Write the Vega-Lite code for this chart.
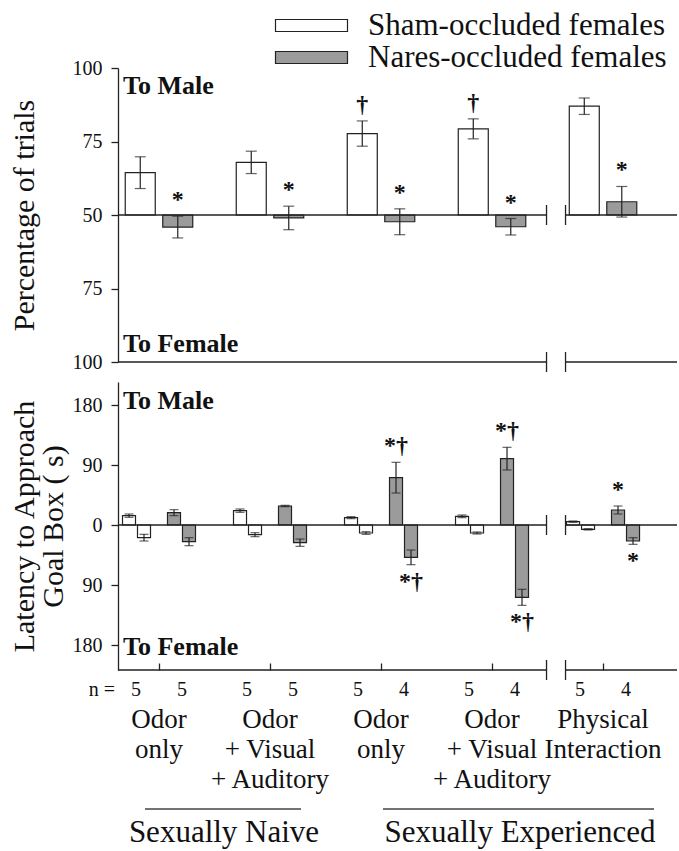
{
  "$schema": "https://vega.github.io/schema/vega-lite/v6.json",
  "background": "white",
  "padding": {"left": 8, "top": 10, "right": 2, "bottom": 4},
  "bounds": "flush",
  "spacing": 20,
  "config": {
    "view": {"stroke": null},
    "font": "Liberation Serif",
    "axis": {"labelFont": "Liberation Serif", "titleFont": "Liberation Serif", "labelColor": "#111", "titleColor": "#111", "domainColor": "#222", "tickColor": "#222", "grid": false, "titleFontWeight": "normal", "labelFontSize": 20, "titleFontSize": 30, "domainWidth": 1.3, "tickWidth": 1.3},
    "text": {"font": "Liberation Serif", "color": "#111"}
  },
  "datasets": {
    "top": [
      {"group": "N1", "treat": "Sham-occluded females", "pct": 64.4, "lo": 59.0, "hi": 69.8, "sig": ""},
      {"group": "N1", "treat": "Nares-occluded females", "pct": 45.9, "lo": 42.2, "hi": 49.6, "sig": "*"},
      {"group": "N2", "treat": "Sham-occluded females", "pct": 67.9, "lo": 64.1, "hi": 71.7, "sig": ""},
      {"group": "N2", "treat": "Nares-occluded females", "pct": 49.0, "lo": 45.0, "hi": 53.0, "sig": "*"},
      {"group": "E1", "treat": "Sham-occluded females", "pct": 77.7, "lo": 73.4, "hi": 82.0, "sig": "†"},
      {"group": "E1", "treat": "Nares-occluded females", "pct": 47.7, "lo": 43.3, "hi": 52.1, "sig": "*"},
      {"group": "E2", "treat": "Sham-occluded females", "pct": 79.3, "lo": 75.9, "hi": 82.7, "sig": "†"},
      {"group": "E2", "treat": "Nares-occluded females", "pct": 46.0, "lo": 43.2, "hi": 48.8, "sig": "*"},
      {"group": "E3", "treat": "Sham-occluded females", "pct": 87.0, "lo": 84.2, "hi": 89.8, "sig": ""},
      {"group": "E3", "treat": "Nares-occluded females", "pct": 54.5, "lo": 49.3, "hi": 59.7, "sig": "*"}
    ],
    "bot": [
      {"group": "N1", "treat": "Sham-occluded females", "slot": "sM", "dir": "M", "val": 14, "lo": 11.5, "hi": 16.5, "sig": ""},
      {"group": "N1", "treat": "Sham-occluded females", "slot": "sF", "dir": "F", "val": -19, "lo": -24, "hi": -14, "sig": ""},
      {"group": "N1", "treat": "Nares-occluded females", "slot": "nM", "dir": "M", "val": 18.5, "lo": 14, "hi": 23, "sig": ""},
      {"group": "N1", "treat": "Nares-occluded females", "slot": "nF", "dir": "F", "val": -25, "lo": -31, "hi": -19, "sig": ""},
      {"group": "N2", "treat": "Sham-occluded females", "slot": "sM", "dir": "M", "val": 21.5, "lo": 19, "hi": 24, "sig": ""},
      {"group": "N2", "treat": "Sham-occluded females", "slot": "sF", "dir": "F", "val": -14.5, "lo": -17.5, "hi": -11.5, "sig": ""},
      {"group": "N2", "treat": "Nares-occluded females", "slot": "nM", "dir": "M", "val": 28.5, "lo": 27.5, "hi": 29.5, "sig": ""},
      {"group": "N2", "treat": "Nares-occluded females", "slot": "nF", "dir": "F", "val": -26.5, "lo": -32, "hi": -21, "sig": ""},
      {"group": "E1", "treat": "Sham-occluded females", "slot": "sM", "dir": "M", "val": 11, "lo": 9.5, "hi": 12.5, "sig": ""},
      {"group": "E1", "treat": "Sham-occluded females", "slot": "sF", "dir": "F", "val": -12, "lo": -14, "hi": -10, "sig": ""},
      {"group": "E1", "treat": "Nares-occluded females", "slot": "nM", "dir": "M", "val": 71, "lo": 48, "hi": 94, "sig": "*†"},
      {"group": "E1", "treat": "Nares-occluded females", "slot": "nF", "dir": "F", "val": -48.5, "lo": -59.5, "hi": -37.5, "sig": "*†"},
      {"group": "E2", "treat": "Sham-occluded females", "slot": "sM", "dir": "M", "val": 13, "lo": 11, "hi": 15, "sig": ""},
      {"group": "E2", "treat": "Sham-occluded females", "slot": "sF", "dir": "F", "val": -12, "lo": -13.5, "hi": -10.5, "sig": ""},
      {"group": "E2", "treat": "Nares-occluded females", "slot": "nM", "dir": "M", "val": 99.5, "lo": 82.5, "hi": 116.5, "sig": "*†"},
      {"group": "E2", "treat": "Nares-occluded females", "slot": "nF", "dir": "F", "val": -108.5, "lo": -120.5, "hi": -96.5, "sig": "*†"},
      {"group": "E3", "treat": "Sham-occluded females", "slot": "sM", "dir": "M", "val": 5, "lo": 4, "hi": 6, "sig": ""},
      {"group": "E3", "treat": "Sham-occluded females", "slot": "sF", "dir": "F", "val": -6.5, "lo": -7.5, "hi": -5.5, "sig": ""},
      {"group": "E3", "treat": "Nares-occluded females", "slot": "nM", "dir": "M", "val": 22.5, "lo": 16.5, "hi": 28.5, "sig": "*"},
      {"group": "E3", "treat": "Nares-occluded females", "slot": "nF", "dir": "F", "val": -24, "lo": -29, "hi": -19, "sig": "*"}
    ],
    "labels": [
      {"group": "N1", "label": "Odor\nonly"},
      {"group": "N2", "label": "Odor\n+ Visual\n+ Auditory"},
      {"group": "E1", "label": "Odor\nonly"},
      {"group": "E2", "label": "Odor\n+ Visual\n+ Auditory"},
      {"group": "E3", "label": "Physical\nInteraction"}
    ],
    "ns": [
      {"group": "N1", "treat": "Sham-occluded females", "n": 5},
      {"group": "N1", "treat": "Nares-occluded females", "n": 5},
      {"group": "N2", "treat": "Sham-occluded females", "n": 5},
      {"group": "N2", "treat": "Nares-occluded females", "n": 5},
      {"group": "E1", "treat": "Sham-occluded females", "n": 5},
      {"group": "E1", "treat": "Nares-occluded females", "n": 4},
      {"group": "E2", "treat": "Sham-occluded females", "n": 5},
      {"group": "E2", "treat": "Nares-occluded females", "n": 4},
      {"group": "E3", "treat": "Sham-occluded females", "n": 5},
      {"group": "E3", "treat": "Nares-occluded females", "n": 4}
    ]
  },
  "resolve": {"scale": {"x": "independent", "y": "independent", "fill": "independent", "xOffset": "independent"}, "legend": {"fill": "independent"}},
  "vconcat": [
    {
      "width": 559,
      "height": 294,
      "layer": [
        {
          "data": {"name": "top"},
          "mark": {"type": "bar", "stroke": "#222", "strokeWidth": 1.2},
          "encoding": {
            "x": {"field": "group", "type": "nominal", "axis": null, "scale": {"domain": ["N1", "N2", "E1", "E2", "E3"], "paddingInner": 0.3243, "paddingOuter": 0.18, "align": 0.0875}},
            "xOffset": {"field": "treat", "type": "nominal", "scale": {"domain": ["Sham-occluded females", "Nares-occluded females"], "paddingInner": 0.2, "paddingOuter": 0.1}},
            "y": {"field": "pct", "type": "quantitative", "scale": {"domain": [0, 100], "nice": false, "zero": false},
                  "axis": {"title": "Percentage of trials", "values": [0, 25, 50, 75, 100], "labelExpr": "datum.value >= 50 ? datum.value : 100 - datum.value", "tickSize": 7, "labelPadding": 9, "titlePadding": 33}},
            "y2": {"datum": 50},
            "fill": {"field": "treat", "type": "nominal",
                     "scale": {"domain": ["Sham-occluded females", "Nares-occluded females"], "range": ["#ffffff", "#9b9b9b"]},
                     "legend": {"orient": "none", "legendX": 178, "legendY": -58, "title": null, "padding": 0,
                                "symbolType": "M-3,-0.5H3V0.5H-3Z", "symbolSize": 576, "symbolStrokeColor": "#222", "symbolStrokeWidth": 1.2,
                                "labelFont": "Liberation Serif", "labelFontSize": 31, "labelColor": "#111", "labelOffset": 41, "labelLimit": 0, "rowPadding": 0}}
          }
        },
        {
          "data": {"values": [{"v": 50}, {"v": 0}]},
          "mark": {"type": "rule", "color": "#222", "strokeWidth": 1.3, "xOffset": -19},
          "encoding": {
            "x": {"datum": "E3", "type": "nominal", "bandPosition": 0, "axis": null},
            "x2": {"value": 0},
            "y": {"field": "v", "type": "quantitative"}
          }
        },
        {
          "data": {"values": [{"v": 50}, {"v": 0}]},
          "mark": {"type": "rule", "color": "#222", "strokeWidth": 1.3, "xOffset": 36, "x2Offset": 74},
          "encoding": {
            "x": {"datum": "E2", "type": "nominal", "bandPosition": 1, "axis": null},
            "x2": {"datum": "E3"},
            "y": {"field": "v", "type": "quantitative"}
          }
        },
        {
          "data": {"values": [{"v": 50}, {"v": 0}]},
          "mark": {"type": "rule", "color": "#222", "strokeWidth": 1.3, "xOffset": -19, "yOffset": -10, "y2Offset": 10},
          "encoding": {
            "x": {"datum": "E3", "type": "nominal", "bandPosition": 0, "axis": null},
            "y": {"field": "v", "type": "quantitative"},
            "y2": {"field": "v"}
          }
        },
        {
          "data": {"values": [{"v": 50}, {"v": 0}]},
          "mark": {"type": "rule", "color": "#222", "strokeWidth": 1.3, "yOffset": -10, "y2Offset": 10},
          "encoding": {
            "x": {"datum": "E3", "type": "nominal", "bandPosition": 0, "axis": null},
            "y": {"field": "v", "type": "quantitative"},
            "y2": {"field": "v"}
          }
        },
        {
          "data": {"name": "top"},
          "mark": {"type": "rule", "color": "#222", "strokeWidth": 1.2},
          "encoding": {
            "x": {"field": "group", "type": "nominal", "axis": null},
            "xOffset": {"field": "treat", "type": "nominal"},
            "y": {"field": "lo", "type": "quantitative"},
            "y2": {"field": "hi"}
          }
        },
        {
          "data": {"name": "top"},
          "mark": {"type": "tick", "color": "#222", "thickness": 1.2, "size": 11},
          "encoding": {
            "x": {"field": "group", "type": "nominal", "axis": null},
            "xOffset": {"field": "treat", "type": "nominal"},
            "y": {"field": "lo", "type": "quantitative"}
          }
        },
        {
          "data": {"name": "top"},
          "mark": {"type": "tick", "color": "#222", "thickness": 1.2, "size": 11},
          "encoding": {
            "x": {"field": "group", "type": "nominal", "axis": null},
            "xOffset": {"field": "treat", "type": "nominal"},
            "y": {"field": "hi", "type": "quantitative"}
          }
        },
        {
          "data": {"name": "top"},
          "mark": {"type": "text", "fontSize": 24, "fontWeight": "bold", "baseline": "alphabetic", "dy": -9},
          "encoding": {
            "x": {"field": "group", "type": "nominal", "axis": null},
            "xOffset": {"field": "treat", "type": "nominal"},
            "y": {"field": "hi", "type": "quantitative"},
            "text": {"field": "sig"}
          }
        },
        {
          "data": {"values": [{"t": "To Male", "v": 94}, {"t": "To Female", "v": 6}]},
          "mark": {"type": "text", "fontSize": 26, "fontWeight": "bold", "align": "left", "baseline": "middle"},
          "encoding": {
            "x": {"value": 5},
            "y": {"field": "v", "type": "quantitative"},
            "text": {"field": "t"}
          }
        }
      ]
    },
    {
      "width": 559,
      "height": 288,
      "resolve": {"scale": {"xOffset": "independent"}},
      "layer": [
        {
          "layer": [
            {
              "data": {"name": "bot"},
              "mark": {"type": "bar", "stroke": "#222", "strokeWidth": 1.2},
              "encoding": {
                "x": {"field": "group", "type": "nominal", "scale": {"domain": ["N1", "N2", "E1", "E2", "E3"], "paddingInner": 0.3243, "paddingOuter": 0.18, "align": 0.0875},
                      "axis": {"title": null, "labels": false, "domain": false, "ticks": true, "tickSize": -7}},
                "xOffset": {"field": "slot", "type": "nominal", "scale": {"domain": ["sM", "sF", "gap", "nM", "nF"], "paddingInner": 0.133, "paddingOuter": 0.067}},
                "y": {"field": "val", "type": "quantitative", "scale": {"domain": [-217.5, 214.5], "nice": false},
                      "axis": {"title": ["Latency to Approach", "Goal Box ( s)"], "values": [-180, -90, 0, 90, 180], "labelExpr": "abs(datum.value)", "tickSize": 7, "labelPadding": 9, "titlePadding": 4, "titleLineHeight": 29}},
                "fill": {"field": "treat", "type": "nominal", "scale": {"domain": ["Sham-occluded females", "Nares-occluded females"], "range": ["#ffffff", "#9b9b9b"]}, "legend": null}
              }
            },
            {
              "data": {"values": [{"v": 0}, {"v": -217.5}]},
              "mark": {"type": "rule", "color": "#222", "strokeWidth": 1.3, "xOffset": -19},
              "encoding": {
                "x": {"datum": "E3", "type": "nominal", "bandPosition": 0},
                "x2": {"value": 0},
                "y": {"field": "v", "type": "quantitative"}
              }
            },
            {
              "data": {"values": [{"v": 0}, {"v": -217.5}]},
              "mark": {"type": "rule", "color": "#222", "strokeWidth": 1.3, "xOffset": 36, "x2Offset": 74},
              "encoding": {
                "x": {"datum": "E2", "type": "nominal", "bandPosition": 1},
                "x2": {"datum": "E3"},
                "y": {"field": "v", "type": "quantitative"}
              }
            },
            {
              "data": {"values": [{"v": 0}, {"v": -217.5}]},
              "mark": {"type": "rule", "color": "#222", "strokeWidth": 1.3, "xOffset": -19, "yOffset": -10, "y2Offset": 10},
              "encoding": {
                "x": {"datum": "E3", "type": "nominal", "bandPosition": 0},
                "y": {"field": "v", "type": "quantitative"},
                "y2": {"field": "v"}
              }
            },
            {
              "data": {"values": [{"v": 0}, {"v": -217.5}]},
              "mark": {"type": "rule", "color": "#222", "strokeWidth": 1.3, "yOffset": -10, "y2Offset": 10},
              "encoding": {
                "x": {"datum": "E3", "type": "nominal", "bandPosition": 0},
                "y": {"field": "v", "type": "quantitative"},
                "y2": {"field": "v"}
              }
            },
            {
              "data": {"name": "bot"},
              "mark": {"type": "rule", "color": "#222", "strokeWidth": 1.2},
              "encoding": {
                "x": {"field": "group", "type": "nominal"},
                "xOffset": {"field": "slot", "type": "nominal"},
                "y": {"field": "lo", "type": "quantitative"},
                "y2": {"field": "hi"}
              }
            },
            {
              "data": {"name": "bot"},
              "mark": {"type": "tick", "color": "#222", "thickness": 1.2, "size": 9},
              "encoding": {
                "x": {"field": "group", "type": "nominal"},
                "xOffset": {"field": "slot", "type": "nominal"},
                "y": {"field": "lo", "type": "quantitative"}
              }
            },
            {
              "data": {"name": "bot"},
              "mark": {"type": "tick", "color": "#222", "thickness": 1.2, "size": 9},
              "encoding": {
                "x": {"field": "group", "type": "nominal"},
                "xOffset": {"field": "slot", "type": "nominal"},
                "y": {"field": "hi", "type": "quantitative"}
              }
            },
            {
              "data": {"name": "bot"},
              "transform": [{"filter": "datum.dir == 'M'"}],
              "mark": {"type": "text", "fontSize": 24, "fontWeight": "bold", "baseline": "alphabetic", "dy": -9},
              "encoding": {
                "x": {"field": "group", "type": "nominal"},
                "xOffset": {"field": "slot", "type": "nominal"},
                "y": {"field": "hi", "type": "quantitative"},
                "text": {"field": "sig"}
              }
            },
            {
              "data": {"name": "bot"},
              "transform": [{"filter": "datum.dir == 'F'"}],
              "mark": {"type": "text", "fontSize": 24, "fontWeight": "bold", "baseline": "alphabetic", "dy": 24},
              "encoding": {
                "x": {"field": "group", "type": "nominal"},
                "xOffset": {"field": "slot", "type": "nominal"},
                "y": {"field": "lo", "type": "quantitative"},
                "text": {"field": "sig"}
              }
            },
            {
              "data": {"values": [{"t": "To Male", "v": 186}, {"t": "To Female", "v": -183}]},
              "mark": {"type": "text", "fontSize": 26, "fontWeight": "bold", "align": "left", "baseline": "middle"},
              "encoding": {
                "x": {"value": 5},
                "y": {"field": "v", "type": "quantitative"},
                "text": {"field": "t"}
              }
            },
            {
              "data": {"name": "labels"},
              "mark": {"type": "text", "fontSize": 27, "align": "center", "baseline": "top", "dy": 37, "lineHeight": 30, "lineBreak": "\n"},
              "encoding": {
                "x": {"field": "group", "type": "nominal"},
                "y": {"value": "height"},
                "text": {"field": "label"}
              }
            },
            {
              "data": {"values": [{"t": "n ="}]},
              "mark": {"type": "text", "fontSize": 20, "align": "right", "baseline": "middle", "dx": -3, "dy": 20},
              "encoding": {
                "x": {"value": 0},
                "y": {"value": "height"},
                "text": {"field": "t"}
              }
            },
            {
              "data": {"values": [{"t": "Sexually Naive"}]},
              "mark": {"type": "rule", "color": "#444", "strokeWidth": 1.3, "xOffset": -14, "x2Offset": 31, "yOffset": 139},
              "encoding": {
                "x": {"datum": "N1", "type": "nominal", "bandPosition": 0.5},
                "x2": {"datum": "N2"},
                "y": {"value": "height"}
              }
            },
            {
              "data": {"values": [{"t": "Sexually Experienced"}]},
              "mark": {"type": "rule", "color": "#444", "strokeWidth": 1.3, "xOffset": 2, "x2Offset": 51, "yOffset": 139},
              "encoding": {
                "x": {"datum": "E1", "type": "nominal", "bandPosition": 0.5},
                "x2": {"datum": "E3"},
                "y": {"value": "height"}
              }
            },
            {
              "data": {"values": [{"t": "Sexually Naive"}]},
              "mark": {"type": "text", "fontSize": 31, "align": "center", "baseline": "middle", "dx": 65, "dy": 163},
              "encoding": {
                "x": {"datum": "N1", "type": "nominal", "bandPosition": 0.5},
                "y": {"value": "height"},
                "text": {"field": "t"}
              }
            },
            {
              "data": {"values": [{"t": "Sexually Experienced"}]},
              "mark": {"type": "text", "fontSize": 31, "align": "center", "baseline": "middle", "dx": 28, "dy": 163},
              "encoding": {
                "x": {"datum": "E2", "type": "nominal", "bandPosition": 0.5},
                "y": {"value": "height"},
                "text": {"field": "t"}
              }
            }
          ]
        },
        {
          "data": {"name": "ns"},
          "mark": {"type": "text", "fontSize": 20, "align": "center", "baseline": "middle", "dy": 20},
          "encoding": {
            "x": {"field": "group", "type": "nominal"},
            "xOffset": {"field": "treat", "type": "nominal", "scale": {"type": "point", "domain": ["Sham-occluded females", "Nares-occluded females"], "padding": 0.315}},
            "y": {"value": "height"},
            "text": {"field": "n"}
          }
        }
      ]
    }
  ]
}
